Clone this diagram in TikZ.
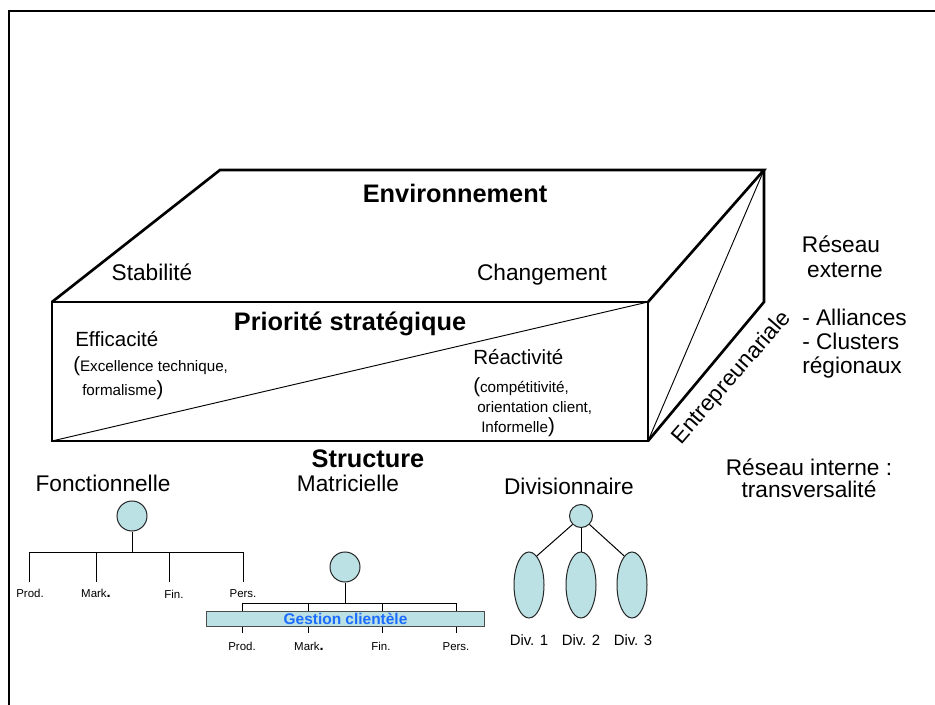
\documentclass[tikz,border=0pt]{standalone}
\usepackage{fontspec}
\setmainfont{Liberation Sans}
\usetikzlibrary{shapes.geometric}
\definecolor{pale}{RGB}{187,225,228}
\definecolor{gcblue}{RGB}{28,108,255}
\tikzset{
  edge/.style={line width=2pt, line join=miter},
  thinline/.style={line width=0.7pt},
  branch/.style={line width=0.75pt},
  big/.style={font=\fontsize{17}{20}\selectfont, inner sep=0pt, anchor=base},
  head/.style={font=\bfseries\fontsize{19}{22}\selectfont, inner sep=0pt, anchor=base},
  mid/.style={font=\fontsize{15.4}{18}\selectfont, inner sep=0pt, anchor=base west},
  small/.style={font=\fontsize{11.4}{14}\selectfont, inner sep=0pt, anchor=base west},
  tiny/.style={font=\fontsize{8.6}{10}\selectfont, inner sep=0pt, anchor=base},
  divlabel/.style={font=\fontsize{11.2}{13}\selectfont, inner sep=0pt, anchor=base},
  boss/.style={circle, draw=black!85, line width=0.75pt, fill=pale, inner sep=0pt, minimum size=22.5pt},
  unitell/.style={ellipse, draw=black!85, line width=0.75pt, fill=pale, inner sep=0pt,
    minimum width=22.5pt, minimum height=49.5pt},
}
\newcommand{\bigparen}[1]{{\fontsize{15.4}{18}\selectfont #1}}
\newcommand{\dotmark}{{\bfseries\fontsize{11}{12}\selectfont .}}
\begin{document}
\begin{tikzpicture}[x=0.75pt, y=-0.75pt]
    \useasboundingbox (0,0) rectangle (935,705);
    \draw[line width=1.5pt] (9,705) -- (9,11) -- (935,11);

    \coordinate (A) at (52,441);
    \coordinate (B) at (648,441);
    \coordinate (C) at (648,302);
    \coordinate (D) at (52,302);
    \coordinate (E) at (220,170);
    \coordinate (F) at (764,170);
    \coordinate (G) at (764,302);
    \draw[edge] (A) -- (B) -- (C) -- (D) -- cycle;
    \draw[edge] (D) -- (E) -- (F) -- (C);
    \draw[edge] (F) -- (G) -- (B);
    \draw[thinline] (A) -- (C);
    \draw[thinline] (B) -- (F);

    \node[head] (env) at (455,203) {Environnement};
    \node[big] (stab) at (152,281) {Stabilité};
    \node[big] (chg) at (542,281) {Changement};
    \node[head] (prio) at (350,331) {Priorité stratégique};
    \node[mid] (eff) at (75,347) {Efficacité};
    \node[small] (eff1) at (73,372) {\bigparen{(}Excellence technique,};
    \node[small] (eff2) at (82,396) {formalisme\bigparen{)}};
    \node[mid] (rea) at (473,365) {Réactivité};
    \node[small] (rea1) at (473,393) {\bigparen{(}compétitivité,};
    \node[small] (rea2) at (477,413) {orientation client,};
    \node[small] (rea3) at (481,433) {Informelle\bigparen{)}};
    \node[head] (struct) at (368,468) {Structure};
    \node[big, anchor=center, rotate=49] (entr) at (732,378) {Entrepreunariale};

    \node[big] (rext1) at (841,253) {Réseau};
    \node[big] (rext2) at (845,278) {externe};
    \node[big, anchor=base west] (all1) at (802,326) {- Alliances};
    \node[big, anchor=base west] (all2) at (802,350) {- Clusters};
    \node[big, anchor=base west] (all3) at (802,374) {régionaux};
    \node[big] (rint1) at (809,475) {Réseau interne :};
    \node[big] (rint2) at (809,498) {transversalité};

    \node[big] (fonc) at (103,492) {Fonctionnelle};
    \node[boss] (f0) at (132,516) {};
    \coordinate (fbar) at (132,552);
    \coordinate (f1) at (29,582);
    \coordinate (f2) at (96,582);
    \coordinate (f3) at (169,582);
    \coordinate (f4) at (243,582);
    \draw[branch] (f0) -- (fbar);
    \foreach \k in {1,...,4} \draw[branch] (fbar) -| (f\k);
    \node[tiny] (fp) at (30,597) {Prod.};
    \node[tiny] (fm) at (96,597) {Mark\dotmark};
    \node[tiny] (ff) at (174,598) {Fin.};
    \node[tiny] (fs) at (243,597) {Pers.};

    \node[big] (matr) at (348,492) {Matricielle};
    \node[boss] (m0) at (345,567) {};
    \coordinate (mbar) at (345,603);
    \coordinate (m1) at (242,611);
    \coordinate (m2) at (308,611);
    \coordinate (m3) at (382,611);
    \coordinate (m4) at (456,611);
    \coordinate (n1) at (242,633);
    \coordinate (n2) at (308,633);
    \coordinate (n3) at (382,633);
    \coordinate (n4) at (456,633);
    \draw[branch] (m0) -- (mbar);
    \foreach \k in {1,...,4} \draw[branch] (mbar) -| (m\k);
    \node[draw=black!70, line width=0.75pt, fill=pale, minimum width=209pt, minimum height=11.25pt,
      inner sep=0pt, font=\bfseries\fontsize{11.6}{13}\selectfont, text=gcblue] (gc) at (345.5,618.5)
      {Gestion clientèle};
    \foreach \k in {1,...,4} \draw[branch] (gc.south -| n\k) -- (n\k);
    \node[tiny] (mp) at (242,650) {Prod.};
    \node[tiny] (mm) at (309,650) {Mark\dotmark};
    \node[tiny] (mf) at (381,650) {Fin.};
    \node[tiny] (ms) at (456,650) {Pers.};

    \node[big] (divi) at (569,494) {Divisionnaire};
    \node[boss, minimum size=17.25pt] (d0) at (581,516) {};
    \node[unitell] (d1) at (529,585) {};
    \node[unitell] (d2) at (581,585) {};
    \node[unitell] (d3) at (632,585) {};
    \draw[branch] (d0.225) -- (d1.75);
    \draw[branch] (d0) -- (d2);
    \draw[branch] (d0.315) -- (d3.105);
    \node[divlabel] (dl1) at (529,645) {Div. 1};
    \node[divlabel] (dl2) at (581,645) {Div. 2};
    \node[divlabel] (dl3) at (633,645) {Div. 3};
\end{tikzpicture}
\end{document}
